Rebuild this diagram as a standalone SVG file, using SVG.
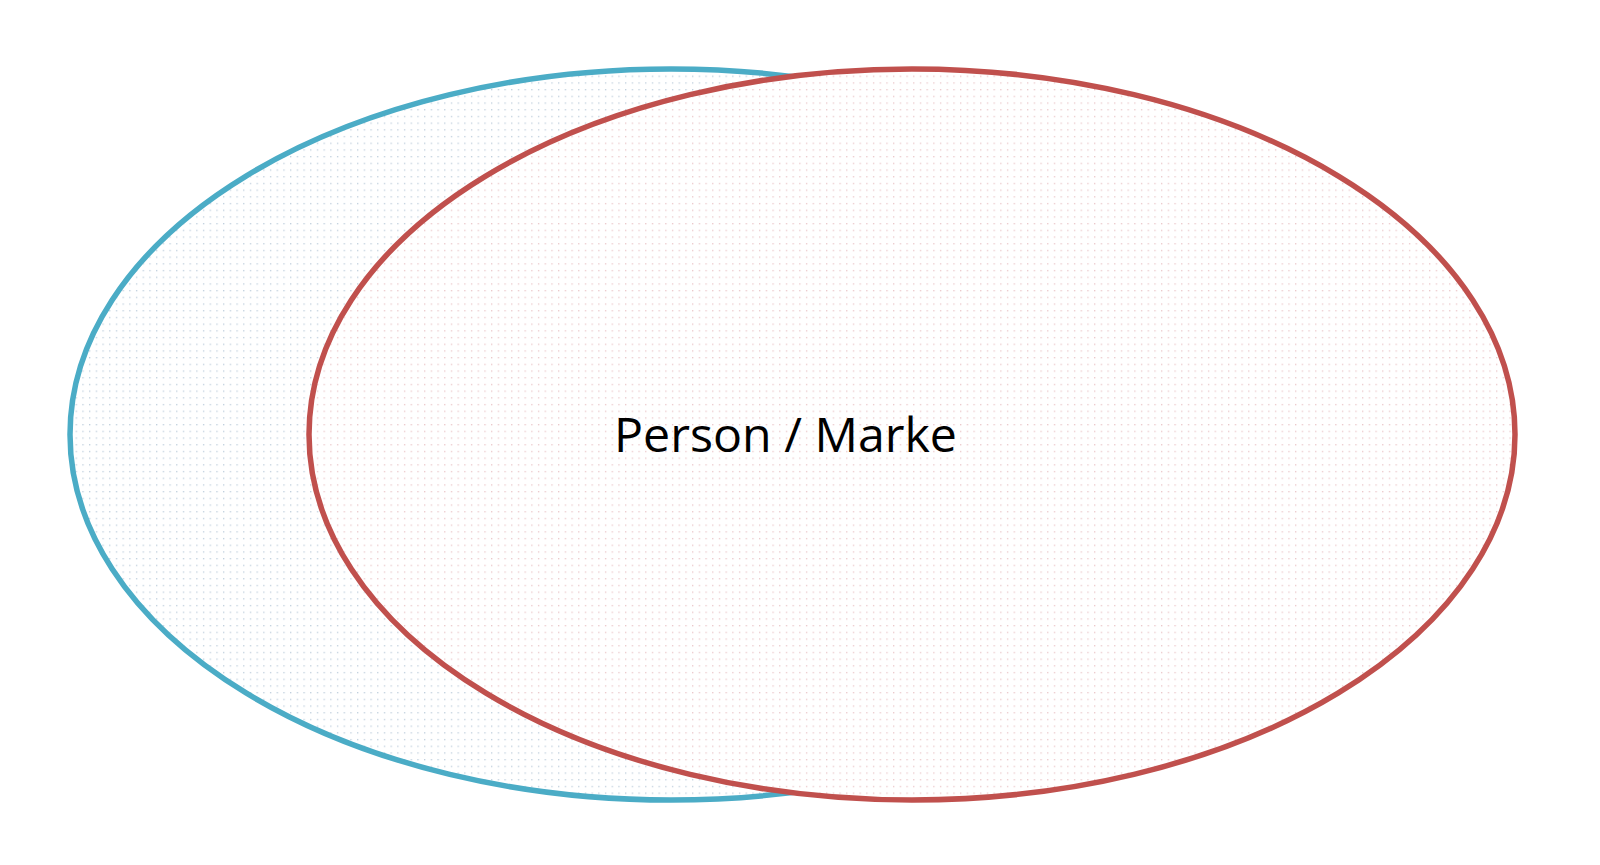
<svg xmlns="http://www.w3.org/2000/svg" width="1600" height="865" viewBox="0 0 1600 865">
<defs>
<pattern id="dotsBlue" width="6.7" height="6.7" patternUnits="userSpaceOnUse">
<rect width="6.7" height="6.7" fill="#ffffff"/>
<rect x="2" y="2" width="1.2" height="1.2" fill="#b4c6d6"/>
</pattern>
<pattern id="dotsRed" width="6.7" height="6.7" patternUnits="userSpaceOnUse">
<rect width="6.7" height="6.7" fill="#ffffff"/>
<rect x="2" y="2" width="1.2" height="1.2" fill="#e8bcbf"/>
</pattern>
<style>
.blue{fill:url(#dotsBlue);stroke:#4BACC6;stroke-width:5.5}
.red{fill:url(#dotsRed);stroke:#C0504D;stroke-width:5.5}
.lbl{font-family:"Open Sans","Noto Sans","Liberation Sans",sans-serif;font-size:47px;fill:#000000}
</style>
</defs>
<rect width="1600" height="865" fill="#ffffff"/>
<g id="node-blue">
<ellipse class="blue" cx="671" cy="434.5" rx="601" ry="365.5"/>
</g>
<g id="node-red">
<ellipse class="red" cx="912" cy="434.5" rx="603" ry="365.5"/>
</g>
<g id="label">
<text class="lbl" x="614" y="452" textLength="343" lengthAdjust="spacingAndGlyphs">Person / Marke</text>
</g>
<g id="connectors"/>
</svg>
